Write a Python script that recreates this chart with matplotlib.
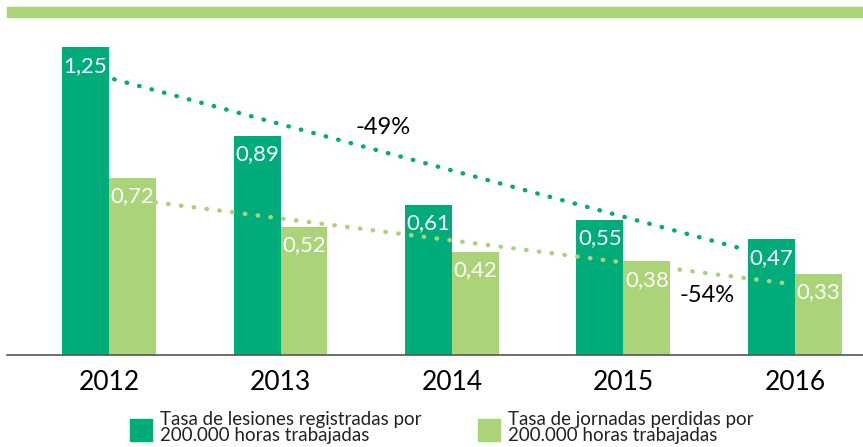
import matplotlib.pyplot as plt
from matplotlib.patches import Rectangle

years = ['2012', '2013', '2014', '2015', '2016']
lesiones = [1.25, 0.89, 0.61, 0.55, 0.47]
jornadas = [0.72, 0.52, 0.42, 0.38, 0.33]
labels = ['Tasa de lesiones registradas por\n200.000 horas trabajadas',
          'Tasa de jornadas perdidas por\n200.000 horas trabajadas']

dark = '#00AC7A'
light = '#ABD377'
font = ['Lato', 'DejaVu Sans']
W, H = 863, 447

fig = plt.figure(figsize=(W / 100, H / 100), dpi=100)
# barra verde superior
fig.patches.append(Rectangle((7 / W, 1 - 17 / H), 1 - 7 / W, 10 / H,
                             transform=fig.transFigure, color=light, zorder=0))

ax = fig.add_axes([7 / W, 92 / H, 856 / W, 325 / H])
x = range(len(years))
bw = 0.274
ax.bar([i - bw / 2 for i in x], lesiones, bw, color=dark)
ax.bar([i + bw / 2 for i in x], jornadas, bw, color=light)

for i in x:
    ax.text(i - bw / 2, lesiones[i] - 0.035, f'{lesiones[i]:.2f}'.replace('.', ','),
            ha='center', va='top', color='white', fontsize=16, family=font)
    ax.text(i + bw / 2, jornadas[i] - 0.035, f'{jornadas[i]:.2f}'.replace('.', ','),
            ha='center', va='top', color='white', fontsize=16, family=font)

# lineas de tendencia punteadas
ax.plot([0.03, 3.7], [1.12, 0.43], color=dark, lw=3.2, linestyle=(0, (0.1, 2.8)),
        dash_capstyle='round')
ax.plot([0.27, 3.96], [0.62, 0.29], color=light, lw=3.2, linestyle=(0, (0.1, 2.8)),
        dash_capstyle='round')
ax.text(1.6, 0.925, '-49%', ha='center', va='center', fontsize=17, family=font)
ax.text(3.49, 0.24, '-54%', ha='center', va='center', fontsize=17, family=font)

ax.set_xlim(-0.595, 4.397)
ax.set_ylim(0, 1.32)
ax.set_yticks([])
ax.set_xticks(list(x))
ax.set_xticklabels(years, family=font, fontsize=19)
ax.tick_params(axis='x', length=0, pad=11)
for s in ['top', 'right', 'left']:
    ax.spines[s].set_visible(False)
ax.spines['bottom'].set_color('#555555')
ax.spines['bottom'].set_linewidth(1.2)

# leyenda
for sx, tx, c, lab in [(130, 160, dark, labels[0]), (478, 508, light, labels[1])]:
    fig.patches.append(Rectangle((sx / W, 1 - 441 / H), 22 / W, 22 / H,
                                 transform=fig.transFigure, color=c))
    fig.text(tx / W, 1 - 411 / H, lab, ha='left', va='top', fontsize=13.5,
             family=font, linespacing=0.92, color='#222222')

fig.savefig('out.png', dpi=100)
